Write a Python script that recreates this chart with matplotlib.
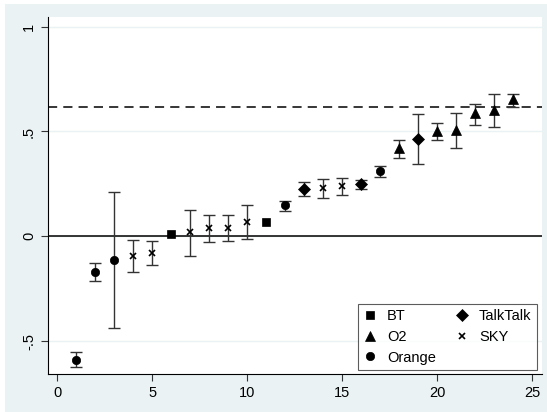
import matplotlib.pyplot as plt
from matplotlib.patches import Rectangle

plt.rcParams['font.family'] = ['Liberation Sans', 'DejaVu Sans']

# rank position, estimate, lower and upper bound for each provider
# (BT intervals are hidden behind the markers, so none are drawn)
bt_x = [6, 11]
bt_y = [0.012, 0.068]

o2_x = [18, 20, 21, 22, 23, 24]
o2_y = [0.42, 0.504, 0.507, 0.587, 0.603, 0.654]
o2_lo = [0.375, 0.458, 0.421, 0.532, 0.523, 0.618]
o2_hi = [0.458, 0.542, 0.590, 0.631, 0.680, 0.680]

orange_x = [1, 2, 3, 12, 17]
orange_y = [-0.59, -0.172, -0.113, 0.149, 0.310]
orange_lo = [-0.625, -0.215, -0.437, 0.122, 0.284]
orange_hi = [-0.55, -0.129, 0.211, 0.170, 0.335]

talktalk_x = [13, 16, 19]
talktalk_y = [0.226, 0.248, 0.466]
talktalk_lo = [0.192, 0.227, 0.346]
talktalk_hi = [0.26, 0.267, 0.582]

sky_x = [4, 5, 7, 8, 9, 10, 14, 15]
sky_y = [-0.094, -0.078, 0.019, 0.038, 0.038, 0.068, 0.232, 0.241]
sky_lo = [-0.170, -0.135, -0.092, -0.029, -0.022, -0.014, 0.184, 0.196]
sky_hi = [-0.018, -0.022, 0.125, 0.102, 0.100, 0.151, 0.273, 0.277]

ref_line = 0.617

xticks = [0, 5, 10, 15, 20, 25]
yticks = [-0.5, 0, 0.5, 1]
ytick_labels = ["-.5", "0", ".5", "1"]

bg = "#eaf2f3"

fig = plt.figure(figsize=(5.47, 4.12), dpi=100)
fig.patch.set_facecolor("white")
fig.patches.append(Rectangle((5 / 547, 0), 1, 1 - 4 / 412, transform=fig.transFigure,
                             facecolor=bg, edgecolor="none", zorder=-10))
ax = fig.add_axes([0.0872, 0.0915, 0.9028, 0.8672])
ax.set_facecolor("white")

for yv in yticks:
    ax.axhline(yv, color=bg, lw=1, zorder=0)
ax.axhline(0, color="black", lw=1.1, zorder=1)
ax.axhline(ref_line, color="black", lw=1.1, ls=(0, (6, 4)), zorder=1)

series = [
    ("BT", bt_x, bt_y, None, None, "s", 6),
    ("O2", o2_x, o2_y, o2_lo, o2_hi, "^", 6.5),
    ("Orange", orange_x, orange_y, orange_lo, orange_hi, "o", 6),
    ("TalkTalk", talktalk_x, talktalk_y, talktalk_lo, talktalk_hi, "D", 6),
    ("SKY", sky_x, sky_y, sky_lo, sky_hi, "x", 4),
]

for name, xs, ys, lo, hi, mk, ms in series:
    if lo is not None:
        err = [[y - l for y, l in zip(ys, lo)], [h - y for y, h in zip(ys, hi)]]
        ax.errorbar(xs, ys, yerr=err, fmt="none", ecolor="#333333", elinewidth=1,
                    capsize=4, capthick=1, zorder=2)
    ax.plot(xs, ys, ls="none", marker=mk, ms=ms, color="black", mec="black",
            mew=1.2 if mk == "x" else 0.5, label=name, zorder=3)

ax.set_xlim(-0.5, 25.5)
ax.set_ylim(-0.658, 1.046)
ax.set_xticks(xticks)
ax.set_yticks(yticks)
ax.set_yticklabels(ytick_labels, rotation=90, va="center")
ax.tick_params(axis="both", labelsize=10.5, length=5, width=0.8, color="#333333")

for s in ["top", "right"]:
    ax.spines[s].set_visible(False)
for s in ["left", "bottom"]:
    ax.spines[s].set_linewidth(0.8)

leg = ax.legend(ncol=2, loc="lower right", bbox_to_anchor=(0.99, 0.013),
                borderaxespad=0, fontsize=10.5, frameon=True, fancybox=False,
                edgecolor="#333333", handlelength=1, handletextpad=0.65,
                columnspacing=1.3, labelspacing=0.45, borderpad=0.35)
leg.get_frame().set_linewidth(0.8)

fig.savefig("out.png", dpi=100, facecolor=fig.get_facecolor())
